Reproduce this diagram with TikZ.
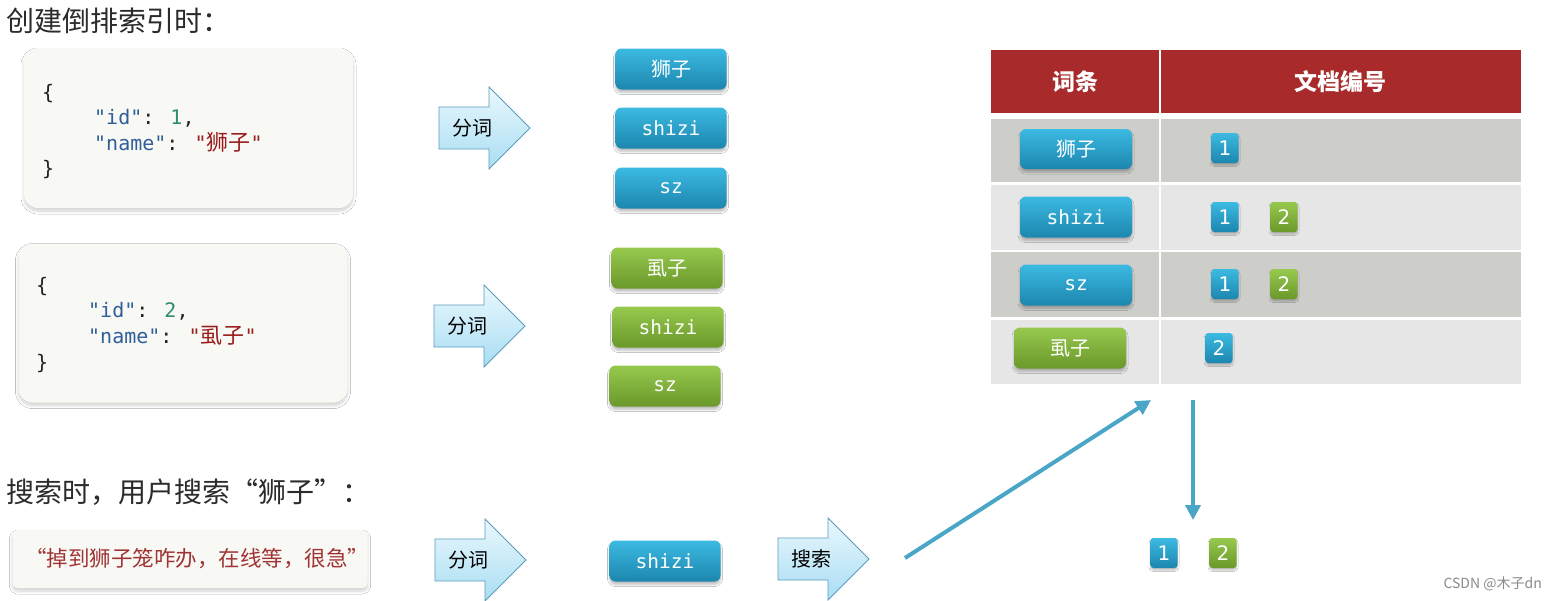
\documentclass[tikz,border=0pt]{standalone}
\usepackage{fontspec}
\setmainfont{Noto Sans CJK SC}
\newfontfamily\cjk{Noto Sans CJK SC}
\newfontfamily\monofnt{DejaVu Sans Mono}
\newfontfamily\numfnt{DejaVu Sans}
\usetikzlibrary{shadows,shadows.blur,arrows.meta}
\definecolor{titlec}{HTML}{2B2B2B}
\definecolor{boxfill}{HTML}{F8F8F4}
\definecolor{ckey}{HTML}{2F5E9A}
\definecolor{cnum}{HTML}{2E8B6E}
\definecolor{cstr}{HTML}{9B1C1C}
\definecolor{cblk}{HTML}{222222}
\definecolor{tbT}{HTML}{3CBAE2}
\definecolor{tbB}{HTML}{1C86AE}
\definecolor{tgT}{HTML}{97C94E}
\definecolor{tgB}{HTML}{6A982A}
\definecolor{arrT}{HTML}{EAF8FD}
\definecolor{arrB}{HTML}{A9DDF3}
\definecolor{arrD}{HTML}{5C9DBE}
\definecolor{hdr}{HTML}{A82A2A}
\definecolor{rowD}{HTML}{CDCDCA}
\definecolor{rowL}{HTML}{E6E6E6}
\definecolor{lnk}{HTML}{4AA6C6}
\definecolor{qtxt}{HTML}{A03434}
\definecolor{wm}{HTML}{8A8A8A}
\newcommand\blockarr[4]{%
  \draw[blockarrow] (#2,#3-21) -- (#2+50,#3-21) -- (#2+50,#3-41) -- (#2+91,#3)
    -- (#2+50,#3+41) -- (#2+50,#3+21) -- (#2,#3+21) -- cycle;
  \node[arrtext] (#1) at (#2+33,#3) {#4};}
\begin{document}
\begin{tikzpicture}[x=1pt,y=-1pt,
  title/.style={font=\fontsize{28}{32}\selectfont, text=titlec, inner sep=0pt, anchor=west},
  jsonbox/.style={fill=boxfill, rounded corners=14pt, inner sep=0pt,
     blur shadow={shadow xshift=0pt, shadow yshift=-3pt, shadow blur radius=3pt, shadow blur steps=8, shadow opacity=18}},
  code/.style={font=\monofnt\fontsize{20}{24}\selectfont, text=cblk, inner sep=0pt, anchor=base west},
  token/.style={rounded corners=6pt, minimum width=111pt, minimum height=41pt, text=white,
     inner sep=0pt, blur shadow={shadow xshift=0pt, shadow yshift=-3pt, shadow blur radius=2pt, shadow blur steps=6, shadow opacity=25}},
  bluetok/.style={token, top color=tbT, bottom color=tbB},
  greentok/.style={token, top color=tgT, bottom color=tgB},
  cjktxt/.style={font=\cjk\fontsize{20}{24}\selectfont},
  monotxt/.style={font=\monofnt\fontsize{19.5}{23}\selectfont},
  badge/.style={rounded corners=3pt, minimum width=27pt, minimum height=30pt, inner sep=0pt,
     text=white, font=\numfnt\fontsize{20}{24}\selectfont,
     blur shadow={shadow xshift=0pt, shadow yshift=-2pt, shadow blur radius=1.5pt, shadow blur steps=5, shadow opacity=25}},
  bbadge/.style={badge, top color=tbT, bottom color=tbB},
  gbadge/.style={badge, top color=tgT, bottom color=tgB},
  blockarrow/.style={top color=arrT, bottom color=arrB, draw=arrD, line width=0.8pt},
  arrtext/.style={font=\fontsize{20}{24}\selectfont, text=black, inner sep=0pt},
  hdrtext/.style={font=\bfseries\fontsize{23}{27}\selectfont, text=white, inner sep=0pt},
  link/.style={draw=lnk, line width=4pt, -{Triangle[length=15pt,width=15pt]}}
]
\fill[white] (0,0) rectangle (1553,600);
\useasboundingbox (0,0) rectangle (1553,600);

% titles
\node[title] (t1) at (6,21) {创建倒排索引时：};
\node[title] (t2) at (6,492) {搜索时，用户搜索“狮子”：};

% document 1
\node[jsonbox, minimum width=329pt, minimum height=160pt] (doc1) at (188.5,128) {};
\node[code] (d1a) at (42,99) {\{};
\node[code] (d1b) at (94,124) {\textcolor{ckey}{"id"}: \textcolor{cnum}{1},};
\node[code] (d1c) at (94,150) {\textcolor{ckey}{"name"}: \textcolor{cstr}{"{\cjk\fontsize{22}{24}\selectfont 狮子}"}};
\node[code] (d1d) at (42,175) {\}};

% document 2
\node[jsonbox, minimum width=329pt, minimum height=159pt] (doc2) at (183,323) {};
\node[code] (d2a) at (36,292) {\{};
\node[code] (d2b) at (88,317) {\textcolor{ckey}{"id"}: \textcolor{cnum}{2},};
\node[code] (d2c) at (88,343) {\textcolor{ckey}{"name"}: \textcolor{cstr}{"{\cjk\fontsize{22}{24}\selectfont 虱子}"}};
\node[code] (d2d) at (36,369) {\}};

% block arrows
\blockarr{a1}{439}{128}{分词}
\blockarr{a2}{434}{326}{分词}
\blockarr{a3}{435}{560}{分词}
\blockarr{a4}{778}{559}{搜索}

% tokens doc 1
\node[bluetok, cjktxt] (b1) at (671,69) {狮子};
\node[bluetok, monotxt] (b2) at (671,128) {shizi};
\node[bluetok, monotxt] (b3) at (671,188) {sz};
% tokens doc 2
\node[greentok, cjktxt] (g1) at (667,268) {虱子};
\node[greentok, monotxt] (g2) at (668,327) {shizi};
\node[greentok, monotxt] (g3) at (665,386) {sz};

% table
\fill[hdr] (991,50) rectangle (1158.5,113);
\fill[hdr] (1161,50) rectangle (1521,113);
\fill[rowD] (991,119) rectangle (1158.5,182);
\fill[rowD] (1161,119) rectangle (1521,182);
\fill[rowL] (991,184.5) rectangle (1158.5,250);
\fill[rowL] (1161,184.5) rectangle (1521,250);
\fill[rowD] (991,252) rectangle (1158.5,317);
\fill[rowD] (1161,252) rectangle (1521,317);
\fill[rowL] (991,319.5) rectangle (1158.5,384);
\fill[rowL] (1161,319.5) rectangle (1521,384);
\node[hdrtext] (h1) at (1075,82) {词条};
\node[hdrtext] (h2) at (1340,82) {文档编号};

\node[bluetok, cjktxt, minimum width=112pt, minimum height=40pt] (r1) at (1076,149) {狮子};
\node[bluetok, monotxt, minimum width=112pt, minimum height=41pt] (r2) at (1076,217) {shizi};
\node[bluetok, monotxt, minimum width=112pt, minimum height=41pt] (r3) at (1076,285) {sz};
\node[greentok, cjktxt, minimum width=112pt, minimum height=41pt] (r4) at (1070,348) {虱子};

\node[bbadge] (r1n1) at (1225,148) {1};
\node[bbadge] (r2n1) at (1225,217) {1};
\node[gbadge] (r2n2) at (1284,217) {2};
\node[bbadge] (r3n1) at (1225,284) {1};
\node[gbadge] (r3n2) at (1284,284) {2};
\node[bbadge] (r4n2) at (1219,348) {2};

% search
\node[jsonbox, rounded corners=5pt, minimum width=355pt, minimum height=58pt] (q) at (190,559) {};
\node[font=\fontsize{21.5}{25}\selectfont, text=qtxt, inner sep=0pt] (qt) at (197,559) {“掉到狮子笼咋办，在线等，很急”};
\node[bluetok, monotxt] (s1) at (665,561) {shizi};

% result
\coordinate (ds) at (905,558);
\coordinate (de) at (1151,400);
\draw[link] (ds) -- (de);
\coordinate (vs) at (1193,400);
\coordinate (ve) at (1193,520);
\draw[link] (vs) -- (ve);
\node[bbadge] (res1) at (1164,553) {1};
\node[gbadge] (res2) at (1223,553) {2};

\node[font=\fontsize{14}{16}\selectfont, text=wm, inner sep=0pt, anchor=east] (wm) at (1542,584) {CSDN @木子dn};
\end{tikzpicture}
\end{document}
